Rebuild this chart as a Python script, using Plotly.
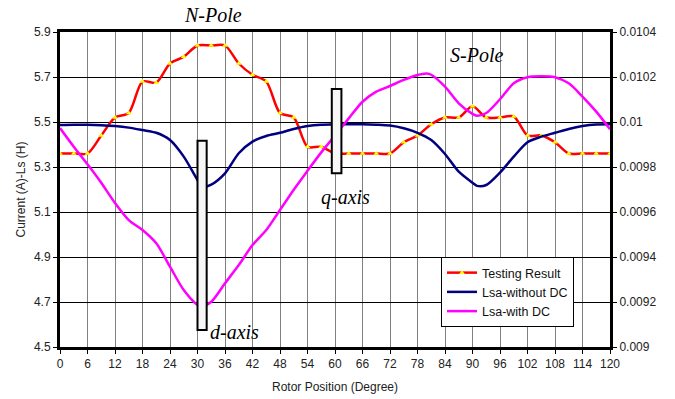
import plotly.graph_objects as go

# Rotor position (degrees)
angle_test = [0, 3, 6, 9, 12, 15, 18, 21, 24, 27, 30, 33, 36, 39, 42, 45, 48, 51, 54, 57,
              60, 63, 66, 69, 72, 75, 78, 81, 84, 87, 90, 93, 96, 99, 102, 105, 108, 111,
              114, 117, 120]
# Measured phase current (A)
testing_result = [5.36, 5.36, 5.36, 5.44, 5.52, 5.54, 5.68, 5.675, 5.76, 5.79, 5.84, 5.84,
                  5.84, 5.76, 5.71, 5.68, 5.54, 5.52, 5.39, 5.39, 5.36, 5.36, 5.36, 5.36,
                  5.36, 5.41, 5.44, 5.49, 5.52, 5.52, 5.57, 5.52, 5.52, 5.525, 5.44, 5.44,
                  5.41, 5.36, 5.36, 5.36, 5.36]

# Self inductance without DC bias (H)
angle_no_dc = [0, 3, 6, 9, 12, 15, 18, 21, 24, 27, 30, 31, 33, 36, 39, 42, 45, 48, 51, 54,
               57, 60, 63, 66, 69, 72, 75, 78, 81, 84, 87, 90, 91, 93, 96, 99, 102, 105,
               108, 111, 114, 117, 120]
lsa_without_dc = [0.009987, 0.009988, 0.009988, 0.009986, 0.009982, 0.009975, 0.009964,
                  0.009952, 0.00992, 0.009846, 0.009742, 0.009712, 0.009722, 0.009772,
                  0.009861, 0.009913, 0.009938, 0.009952, 0.009969, 0.009982, 0.009988,
                  0.009989, 0.00999, 0.00999, 0.009988, 0.009984, 0.009972, 0.009952,
                  0.00992, 0.009858, 0.009779, 0.00973, 0.009716, 0.00972, 0.009775,
                  0.009846, 0.00991, 0.009935, 0.009952, 0.009969, 0.009982, 0.009989,
                  0.00999]

# Self inductance with DC bias (H)
angle_dc = [0, 3, 6, 9, 12, 15, 18, 21, 24, 27, 30, 31, 33, 36, 39, 42, 45, 48, 51, 54,
            57, 60, 63, 66, 69, 72, 75, 78, 80, 81, 84, 87, 90, 91, 93, 96, 99, 102, 105,
            108, 111, 114, 117, 120]
lsa_with_dc = [0.009973, 0.00989, 0.009812, 0.00973, 0.00964, 0.009564, 0.00952, 0.009461,
               0.009357, 0.009253, 0.009187, 0.00918, 0.009201, 0.009283, 0.009364,
               0.009453, 0.00952, 0.009609, 0.009699, 0.009783, 0.009865, 0.00994,
               0.010016, 0.01009, 0.010135, 0.01016, 0.010187, 0.010209, 0.010216,
               0.01021, 0.010157, 0.010083, 0.010036, 0.010028, 0.01004, 0.010101,
               0.010172, 0.010199, 0.010203, 0.010199, 0.010172, 0.010113, 0.010046,
               0.009968]

x_ticks = list(range(0, 121, 6))
y_ticks = [4.5, 4.7, 4.9, 5.1, 5.3, 5.5, 5.7, 5.9]
y2_ticks = [0.009, 0.0092, 0.0094, 0.0096, 0.0098, 0.01, 0.0102, 0.0104]
y2_labels = ["0.009", "0.0092", "0.0094", "0.0096", "0.0098", "0.01", "0.0102", "0.0104"]

# Marker boxes for the d and q axes: (x0, x1, y0, y1) in degrees / amps
d_box = (30.0, 32.0, 4.576, 5.417)
q_box = (59.3, 61.4, 5.272, 5.647)

FONT = "Liberation Sans, Arial, sans-serif"
SERIF = "Liberation Serif, Times New Roman, serif"

fig = go.Figure()
fig.add_trace(go.Scatter(
    x=angle_test, y=testing_result, name="Testing Result", mode="lines+markers",
    line=dict(color="#ff0000", width=2.5, shape="spline", smoothing=0.8),
    marker=dict(symbol="triangle-up", color="#ffff00", size=5, line=dict(width=0)),
    legendgroup="a"))
fig.add_trace(go.Scatter(
    x=angle_no_dc, y=lsa_without_dc, name="Lsa-without DC", mode="lines", yaxis="y2",
    line=dict(color="#000080", width=2.5, shape="spline", smoothing=0.8),
    legendgroup="b"))
fig.add_trace(go.Scatter(
    x=angle_dc, y=lsa_with_dc, name="Lsa-with DC", mode="lines", yaxis="y2",
    line=dict(color="#ff00ff", width=2.5, shape="spline", smoothing=0.8),
    legendgroup="c"))

for x0, x1, y0, y1 in (d_box, q_box):
    fig.add_shape(type="rect", xref="x", yref="y", x0=x0, x1=x1, y0=y0, y1=y1,
                  fillcolor="#f7f7f7", line=dict(color="#000000", width=2), layer="above")

def label(text, x, y, xref="x", yref="y"):
    fig.add_annotation(text=text, x=x, y=y, xref=xref, yref=yref, showarrow=False,
                       font=dict(family=SERIF, size=20, color="#000000"),
                       xanchor="center", yanchor="middle")

label("<i>N-Pole</i>", 33.4, 1.054, yref="paper")
label("<i>S-Pole</i>", 90.8, 5.80)
label("<i>q-axis</i>", 62.3, 5.165)
label("<i>d-axis</i>", 38.0, 4.565)

fig.update_layout(
    width=675, height=399,
    margin=dict(l=60, r=65, t=32, b=52),
    paper_bgcolor="white", plot_bgcolor="white",
    font=dict(family=FONT, size=12, color="#222222"),
    showlegend=True,
    legend=dict(x=0.6927, y=0.2857, xanchor="left", yanchor="top",
                bgcolor="white", bordercolor="#000000", borderwidth=1,
                font=dict(family=FONT, size=12.5, color="#111111"),
                tracegroupgap=7, traceorder="normal"),
    xaxis=dict(range=[0, 120], tickvals=x_ticks, showgrid=True, gridcolor="#808080",
               gridwidth=1, zeroline=False, showline=True, linecolor="#000000",
               linewidth=2.5, mirror=True, ticks="outside", ticklen=4,
               tickcolor="#000000", automargin=False,
               title=dict(text="Rotor Position (Degree)", standoff=13,
                          font=dict(family=FONT, size=12))),
    yaxis=dict(range=[4.5, 5.9], tickvals=y_ticks, tickformat=".1f", showgrid=True,
               gridcolor="#000000", gridwidth=1, zeroline=False, showline=True,
               linecolor="#000000", linewidth=3, ticks="outside", ticklen=4,
               tickcolor="#000000", automargin=False,
               title=dict(text="Current (A)-Ls (H)", standoff=6,
                          font=dict(family=FONT, size=12))),
    yaxis2=dict(range=[0.009, 0.0104], overlaying="y", side="right",
                tickvals=y2_ticks, ticktext=y2_labels, showgrid=False, zeroline=False,
                showline=True, linecolor="#000000", linewidth=3, ticks="outside",
                ticklen=4, tickcolor="#000000", automargin=False),
)

fig.write_html("out.html")
